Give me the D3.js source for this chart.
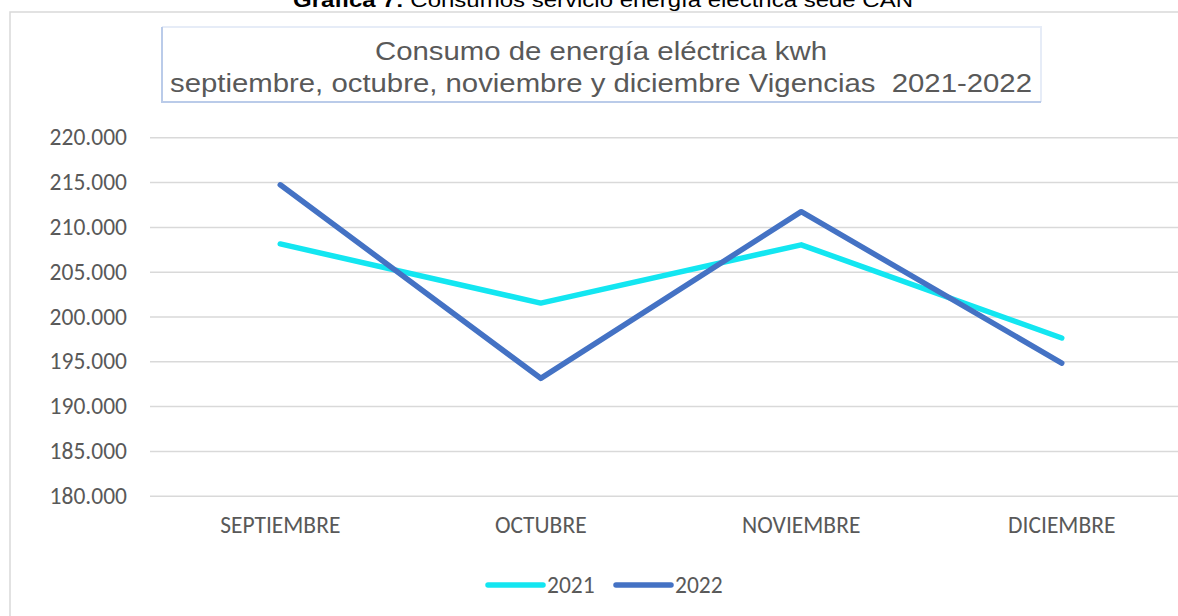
<!DOCTYPE html>
<html>
<head>
<meta charset="utf-8">
<script src="https://cdn.jsdelivr.net/npm/d3@7"></script>
<style>
  html, body { margin: 0; padding: 0; background: #ffffff; }
  svg { display: block; }
</style>
</head>
<body>
<svg id="chart" width="1178" height="616"></svg>
<script>
// ---- data ----
const categories = ["SEPTIEMBRE", "OCTUBRE", "NOVIEMBRE", "DICIEMBRE"];
const seriesNames = ["2021", "2022"];
const values2021 = [208100, 201500, 208000, 197600];
const values2022 = [214700, 193100, 211700, 194800];
const yTicks = [180000, 185000, 190000, 195000, 200000, 205000, 210000, 215000, 220000];
const captionBold = "Grafica 7:";
const captionText = " Consumos servicio energía eléctrica sede CAN";
const titleLines = ["Consumo de energía eléctrica kwh",
                    "septiembre, octubre, noviembre y diciembre Vigencias  2021-2022"];
const seriesColors = ["#13E6F1", "#4472C4"];

const series = [
  { name: seriesNames[0], values: values2021, color: seriesColors[0] },
  { name: seriesNames[1], values: values2022, color: seriesColors[1] }
];

const W = 1178, H = 616;
const svg = d3.select("#chart");
const labelFont = "Carlito, Lato, 'Liberation Sans', sans-serif";
const labelSize = 23.5;
const titleFont = "'Liberation Sans', Arial, sans-serif";
const textColor = "#595959";

// caption (cut off at top)
const cap = svg.append("text")
  .attr("x", 603).attr("y", 7)
  .attr("text-anchor", "middle")
  .attr("font-family", titleFont)
  .attr("font-size", 21)
  .attr("fill", "#000")
  .style("white-space", "pre")
  .attr("textLength", 620)
  .attr("lengthAdjust", "spacingAndGlyphs");
cap.append("tspan").attr("font-weight", "bold").text(captionBold);
cap.append("tspan").text(captionText);

// outer chart border
svg.append("rect")
  .attr("x", 10).attr("y", 12)
  .attr("width", W + 20).attr("height", H + 20)
  .attr("fill", "#fff")
  .attr("stroke", "#D9D9D9").attr("stroke-width", 1.5);

// title box
const tb = { x: 162, y: 27, w: 879, h: 75 };
svg.append("rect").attr("x", tb.x).attr("y", tb.y).attr("width", tb.w).attr("height", tb.h).attr("fill", "#fff");
svg.append("path").attr("d", `M${tb.x},${tb.y} H${tb.x + tb.w} V${tb.y + tb.h}`)
  .attr("fill", "none").attr("stroke", "#E6ECF7").attr("stroke-width", 2);
svg.append("path").attr("d", `M${tb.x},${tb.y} V${tb.y + tb.h} H${tb.x + tb.w}`)
  .attr("fill", "none").attr("stroke", "#BACBE9").attr("stroke-width", 2);

const titleWidths = [452, 862];
const titleBaselines = [60, 92];
titleLines.forEach((t, i) => {
  svg.append("text")
    .attr("x", 601).attr("y", titleBaselines[i])
    .attr("text-anchor", "middle")
    .attr("font-family", titleFont)
    .attr("font-size", 26)
    .attr("fill", textColor)
    .style("white-space", "pre")
    .attr("textLength", titleWidths[i])
    .attr("lengthAdjust", "spacingAndGlyphs")
    .text(t);
});

// scales
const plot = { left: 150, right: 1192, top: 137.3, bottom: 495.7 };
const x = d3.scaleBand().domain(categories).range([plot.left, plot.right]).padding(0);
const y = d3.scaleLinear().domain([180000, 220000]).range([plot.bottom, plot.top]);

const locale = d3.formatLocale({ decimal: ",", thousands: ".", grouping: [3], currency: ["$", ""] });
const fmt = locale.format(",d");

// y axis with gridlines
const yAxis = svg.append("g")
  .attr("transform", `translate(${plot.left},0)`)
  .call(d3.axisLeft(y).tickValues(yTicks).tickFormat(fmt)
    .tickSize(-(W - plot.left + 10)).tickPadding(23));
yAxis.select(".domain").remove();
yAxis.selectAll(".tick line").attr("stroke", "#D9D9D9").attr("stroke-width", 1.5);
yAxis.selectAll(".tick text")
  .attr("font-family", labelFont).attr("font-size", labelSize).attr("fill", textColor);

// x axis
const xAxis = svg.append("g")
  .attr("transform", `translate(0,${plot.bottom})`)
  .call(d3.axisBottom(x).tickSize(0).tickPadding(21));
xAxis.select(".domain").remove();
xAxis.selectAll(".tick text")
  .attr("font-family", labelFont).attr("font-size", labelSize).attr("fill", textColor);

// lines
const line = d3.line()
  .x((d, i) => x(categories[i]) + x.bandwidth() / 2)
  .y(d => y(d));

series.forEach(s => {
  svg.append("path")
    .datum(s.values)
    .attr("d", line)
    .attr("fill", "none")
    .attr("stroke", s.color)
    .attr("stroke-width", 5.5)
    .attr("stroke-linecap", "round")
    .attr("stroke-linejoin", "round");
});

// legend
const legendStarts = [488, 616];
const legend = svg.append("g");
series.forEach((s, i) => {
  const g = legend.append("g").attr("transform", `translate(${legendStarts[i]},585)`);
  g.append("line").attr("x1", 0).attr("x2", 55).attr("y1", 0).attr("y2", 0)
    .attr("stroke", s.color).attr("stroke-width", 5.5).attr("stroke-linecap", "round");
  g.append("text").attr("x", 59).attr("y", 8)
    .attr("font-family", labelFont).attr("font-size", labelSize).attr("fill", textColor)
    .text(s.name);
});
</script>
</body>
</html>
